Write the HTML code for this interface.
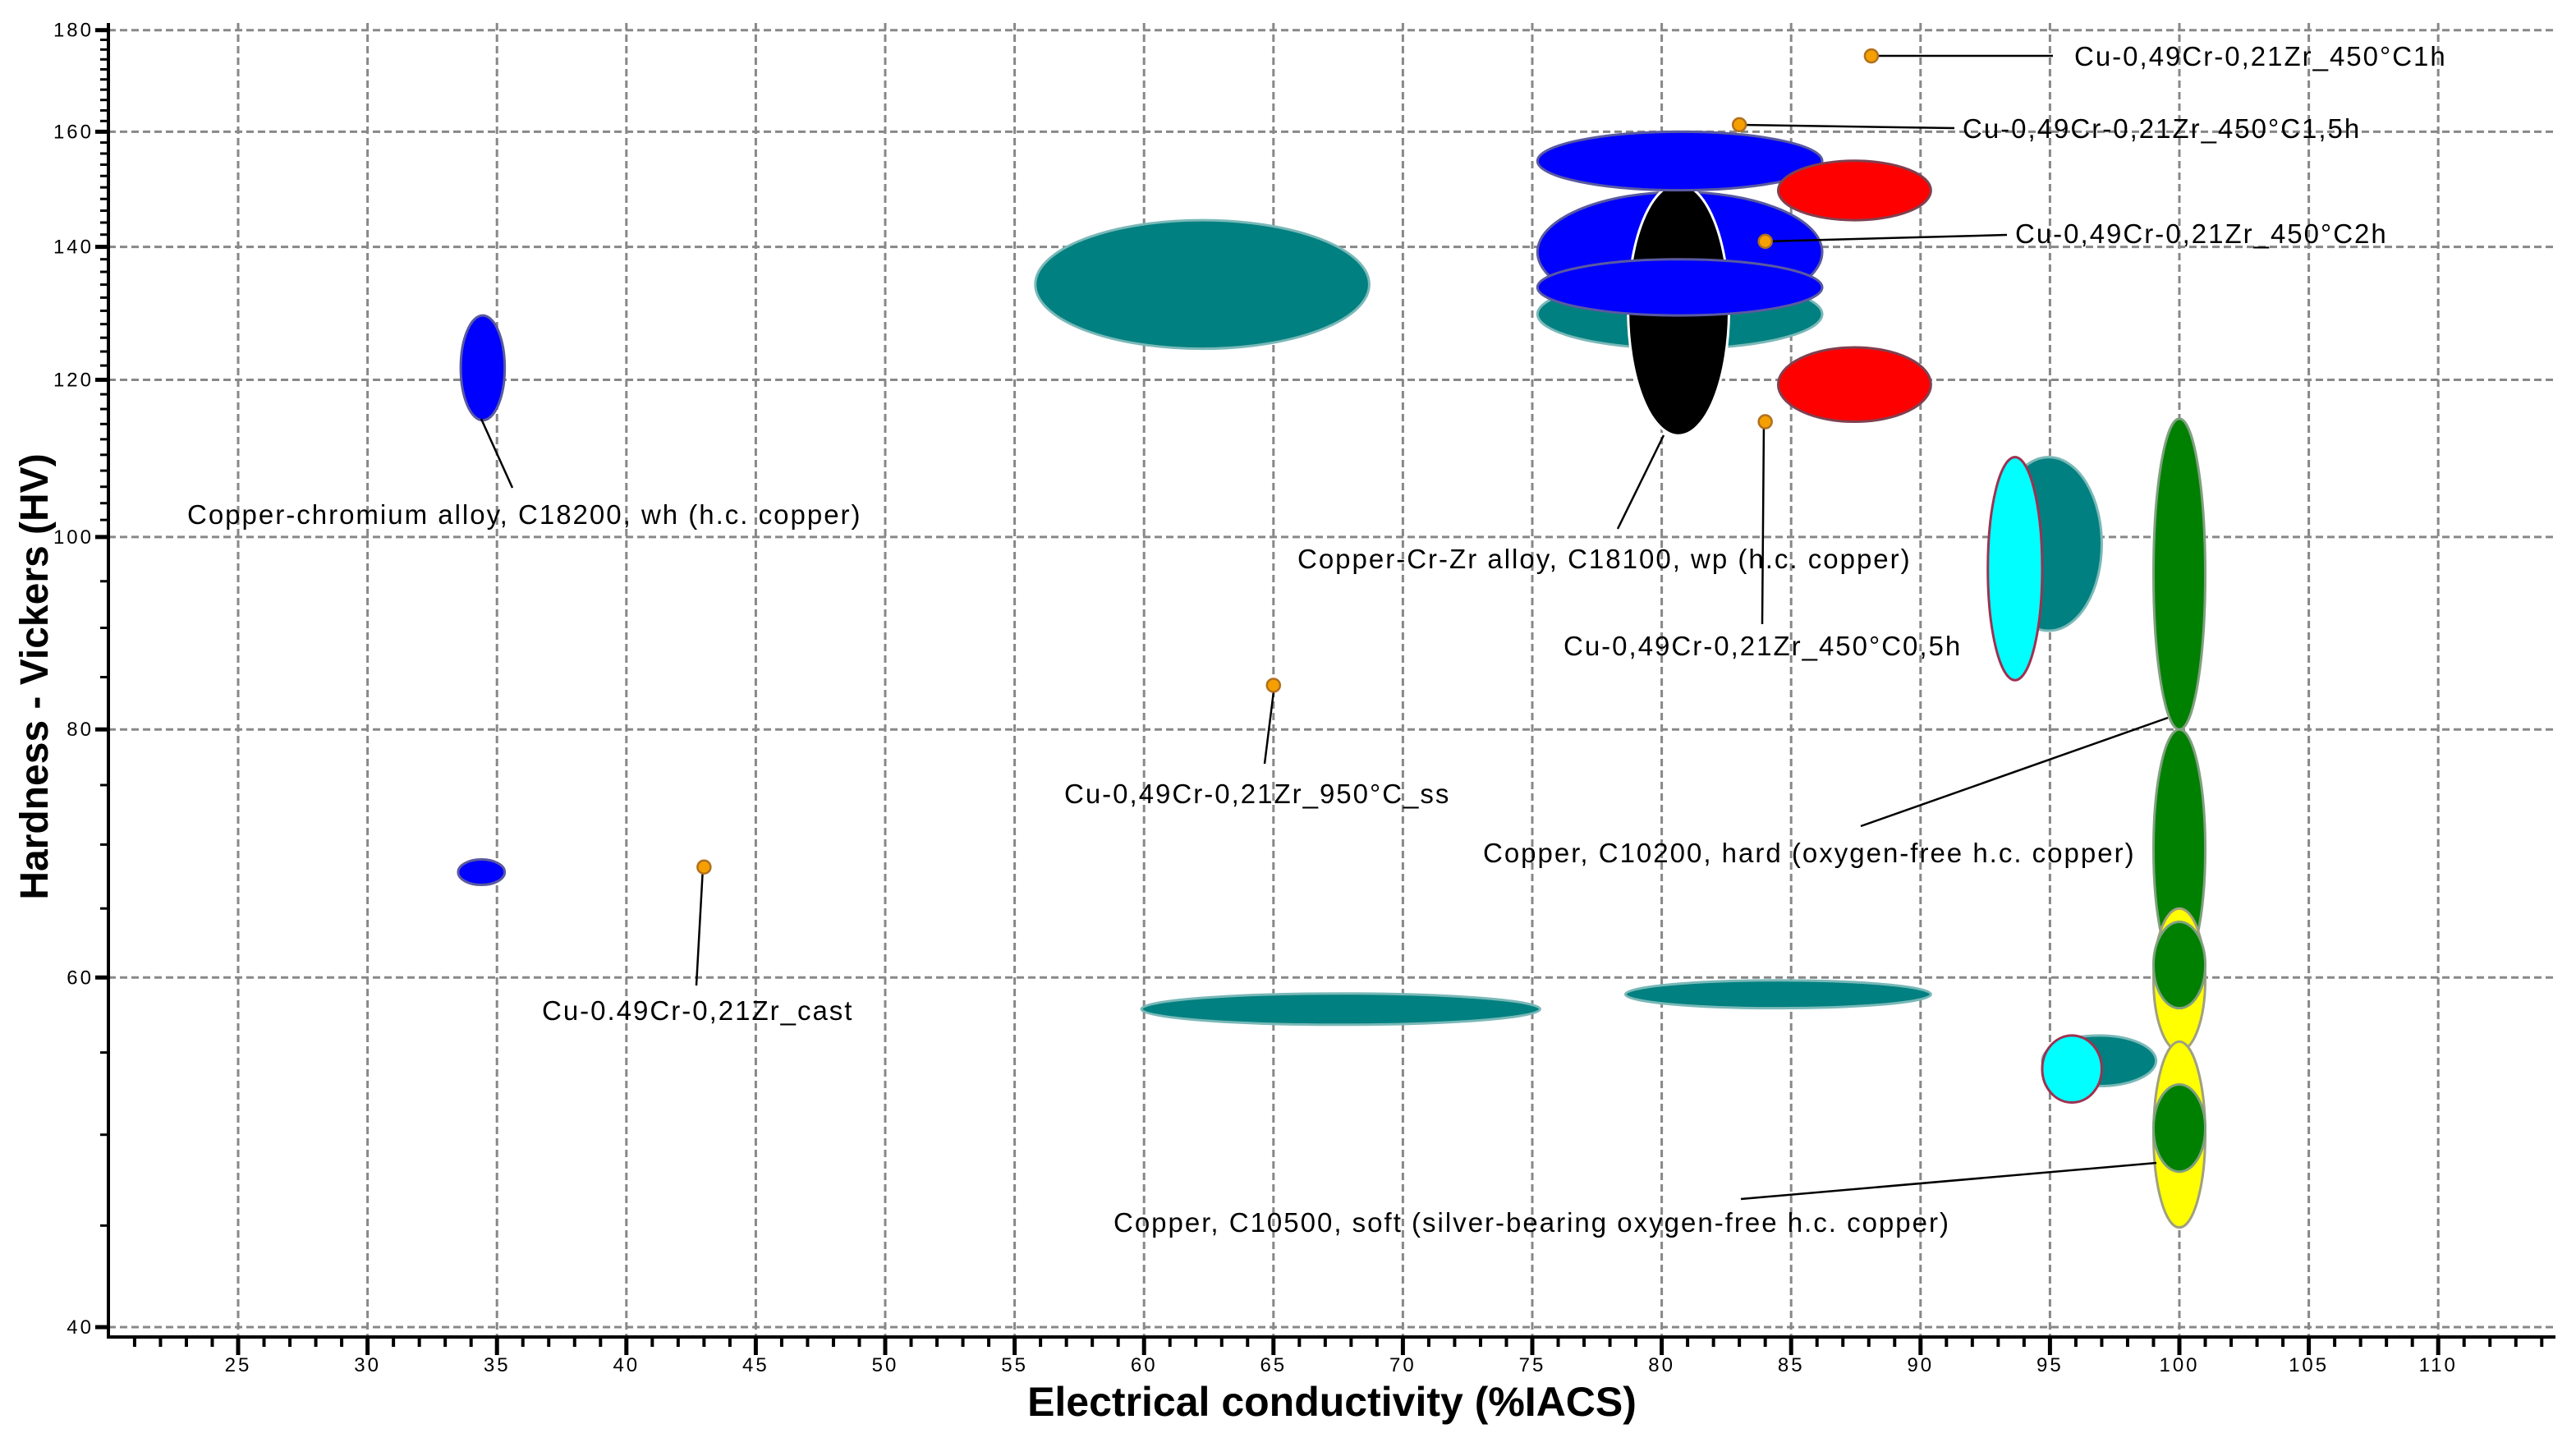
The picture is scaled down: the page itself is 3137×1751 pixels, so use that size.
<!DOCTYPE html>
<html><head><meta charset="utf-8">
<style>
html,body{margin:0;padding:0;background:#fff;}
svg{display:block;font-family:"Liberation Sans",Arial,sans-serif;}
</style></head>
<body>
<svg id="chart" width="3137" height="1751" viewBox="0 0 3137 1751" xmlns="http://www.w3.org/2000/svg">
<g id="grid"></g>
<g id="marks"></g>
<g id="ann"></g>
<g id="axes"></g>
</svg>
<script>
const xTicks = [25,30,35,40,45,50,55,60,65,70,75,80,85,90,95,100,105,110];
const yTicks = [40,60,80,100,120,140,160,180];
const ellNames = ["c18200-wh-a","c18200-wh-b","teal-big","teal-long","teal-mid","teal-behind","blue-middle","black-c18100","blue-top","blue-lower","red-top","red-bottom","teal-right","cyan-right","green-tall","green-lower","yellow-upper","green-small","teal-small","cyan-small","yellow-lower","green-bottom"];
const ellColors = ["#0000ff","#0000ff","#008080","#008080","#008080","#008080","#0000ff","#000000","#0000ff","#0000ff","#ff0000","#ff0000","#008080","#00ffff","#008000","#008000","#ffff00","#008000","#008080","#00ffff","#ffff00","#008000"];
const ellStroke = ["#5a5aa0","#5a5aa0","#7ab8b8","#7ab8b8","#7ab8b8","#7ab8b8","#5a5aa0","#ffffff","#5a5aa0","#5a5aa0","#804050","#804050","#7ab8b8","#a03050","#80a080","#80a080","#a0a080","#80a080","#7ab8b8","#a03050","#a0a080","#80a080"];
const ellXmin = [33.6,33.5,55.8,59.9,78.6,75.2,75.2,78.7,75.2,75.2,84.5,84.5,92.9,92.6,99.0,99.0,99.0,99.0,94.7,94.7,99.0,99.0];
const ellXmax = [35.3,35.3,68.7,75.3,90.4,86.2,86.2,82.6,86.2,86.2,90.4,90.4,97.0,94.7,101.0,101.0,101.0,101.0,99.1,97.0,101.0,101.0];
const ellYmin = [114.5,66.8,124.4,56.8,57.9,124.4,129.8,112.5,149.5,129.3,144.4,114.3,89.7,84.7,80.0,60.6,55.1,57.9,52.9,51.9,44.9,47.9];
const ellYmax = [129.3,68.8,144.4,58.9,59.8,134.8,149.2,150.6,160.0,138.0,154.7,124.6,109.7,109.7,114.7,80.0,65.0,64.0,56.1,56.1,55.7,53.0];
const ptX = [88.1,83.0,84.0,84.0,65.0,43.0];
const ptY = [174.7,161.3,140.9,114.3,84.2,68.2];

const PX0=132, PX1=3112;
function sx(v){return 290+(v-25)*31.52;}
function sy(v){return 1616-1050*Math.log(v/40);}
const NS="http://www.w3.org/2000/svg";
function mk(tag,attrs,parent){const e=document.createElementNS(NS,tag);for(const k in attrs)e.setAttribute(k,attrs[k]);parent.appendChild(e);return e;}
const gridG=document.getElementById('grid'),marksG=document.getElementById('marks'),annG=document.getElementById('ann'),axesG=document.getElementById('axes');
const TOPY=28,BOTY=1628;
xTicks.forEach(t=>{
  const l=mk('line',{x1:sx(t),x2:sx(t),y1:TOPY,y2:BOTY,stroke:'#888',"stroke-width":3,"stroke-dasharray":"9 5"},gridG);
  
  
});
yTicks.forEach(t=>{
  const l=mk('line',{x1:PX0,x2:PX1,y1:sy(t),y2:sy(t),stroke:'#888',"stroke-width":3,"stroke-dasharray":"9 5"},gridG);
  
  
});
for(let i=0;i<ellNames.length;i++){
  const cx=(sx(ellXmin[i])+sx(ellXmax[i]))/2, rx=(sx(ellXmax[i])-sx(ellXmin[i]))/2;
  const cy=(sy(ellYmin[i])+sy(ellYmax[i]))/2, ry=(sy(ellYmin[i])-sy(ellYmax[i]))/2;
  const e=mk('ellipse',{cx:cx,cy:cy,rx:rx,ry:ry,fill:ellColors[i],stroke:ellStroke[i],"stroke-width":3},marksG);
  
  
}
const leaders=[[2280,68,2500,68],[2118,152,2380,156],[2150,294,2444,286],[2148,514,2146,760],[1552,834,1540,930],[856,1056,848,1200],[586,510,624,594],[2026,530,1970,644],[2640,874,2266,1006],[2626,1416,2120,1460]];
leaders.forEach(l=>{
  const e=mk('line',{x1:l[0],y1:l[1],x2:l[2],y2:l[3],stroke:'#000',"stroke-width":2.5},annG);
  
  
});
for(let i=0;i<ptX.length;i++){
  const c=mk('circle',{cx:sx(ptX[i]),cy:sy(ptY[i]),r:8,fill:'#f5a000',stroke:'#b07020',"stroke-width":2.5},annG);
  
  
}
const labels=[["Cu-0,49Cr-0,21Zr_450°C1h",2526,80],["Cu-0,49Cr-0,21Zr_450°C1,5h",2390,168],["Cu-0,49Cr-0,21Zr_450°C2h",2454,296],["Copper-chromium alloy, C18200, wh (h.c. copper)",228,638],["Copper-Cr-Zr alloy, C18100, wp (h.c. copper)",1580,692],["Cu-0,49Cr-0,21Zr_450°C0,5h",1904,798],["Cu-0,49Cr-0,21Zr_950°C_ss",1296,978],["Copper, C10200, hard (oxygen-free h.c. copper)",1806,1050],["Cu-0.49Cr-0,21Zr_cast",660,1242],["Copper, C10500, soft (silver-bearing oxygen-free h.c. copper)",1356,1500]];
labels.forEach(L=>{
  const t=mk('text',{x:L[1],y:L[2],"font-size":33,fill:'#000',"letter-spacing":2},annG);
  t.textContent=L[0];
  
  
});
const ax=mk('path',{d:`M${PX0},${TOPY} V${BOTY} H${PX1}`,fill:'none',stroke:'#000',"stroke-width":4},axesG);


for(let v=21;v<=114;v++){
  const major=(v%5===0);
  const e=mk('line',{x1:sx(v),x2:sx(v),y1:BOTY,y2:BOTY+(major?22:12),stroke:'#000',"stroke-width":major?5:4},axesG);
  
  
}
xTicks.forEach(t=>{
  const e=mk('text',{x:sx(t),y:1670,"font-size":24,"text-anchor":"middle","letter-spacing":3},axesG);
  e.textContent=t;
  
  
});
for(let v=40;v<=180;v+=(v<100?5:2)){
  const major=(yTicks.indexOf(v)>=0);
  const e=mk('line',{x1:PX0-(major?16:10),x2:PX0,y1:sy(v),y2:sy(v),stroke:'#000',"stroke-width":major?5:3},axesG);
  
  
}
yTicks.forEach(t=>{
  const e=mk('text',{x:114,y:sy(t)+8,"font-size":24,"text-anchor":"end","letter-spacing":3},axesG);
  e.textContent=t;
  
  
});
const xt=mk('text',{x:1622,y:1724,"font-size":50,"font-weight":"bold","text-anchor":"middle"},axesG);
xt.textContent="Electrical conductivity (%IACS)";


const yt=mk('text',{x:0,y:0,"font-size":48,"font-weight":"bold","text-anchor":"middle",transform:"translate(58,824) rotate(-90)"},axesG);
yt.textContent="Hardness - Vickers (HV)";


</script>
</body></html>
